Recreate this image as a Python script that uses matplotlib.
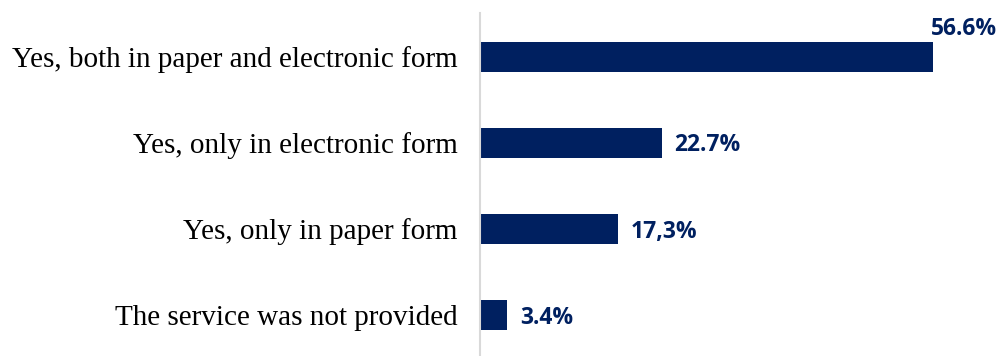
import matplotlib.pyplot as plt

categories = ['Yes, both in paper and electronic form',
              'Yes, only in electronic form',
              'Yes, only in paper form',
              'The service was not provided']
values = [56.6, 22.7, 17.3, 3.4]
value_labels = ['56.6%', '22.7%', '17,3%', '3.4%']

navy = '#002060'

fig = plt.figure(figsize=(10.01, 3.56), dpi=100)
ax = fig.add_axes([480 / 1001, 0, 1 - 480 / 1001, 1 - 13 / 356])

pos = list(range(len(categories)))
ax.barh(pos, values, height=0.35, color=navy)

ax.set_xlim(0, 521 / 8.0)
ax.set_ylim(3.477, -0.506)

ax.set_yticks(pos)
ax.set_yticklabels(categories, family='Liberation Serif', fontsize=21)
ax.tick_params(axis='y', length=0, pad=16)
ax.set_xticks([])

for s in ['top', 'right', 'bottom']:
    ax.spines[s].set_visible(False)
ax.spines['left'].set_color('#d9d9d9')
ax.spines['left'].set_linewidth(1.5)

# largest bar gets its label above the end, the rest to the right
for i, (v, lab) in enumerate(zip(values, value_labels)):
    if i == 0:
        ax.annotate(lab, (v, i - 0.175), xytext=(46, 0.5), textcoords='offset points',
                    ha='right', va='bottom', color=navy, fontsize=16.5,
                    fontweight='bold', family='Open Sans')
    else:
        ax.annotate(lab, (v, i), xytext=(9, -2), textcoords='offset points',
                    ha='left', va='center', color=navy, fontsize=16.5,
                    fontweight='bold', family='Open Sans')

fig.savefig('out.png', dpi=100)
